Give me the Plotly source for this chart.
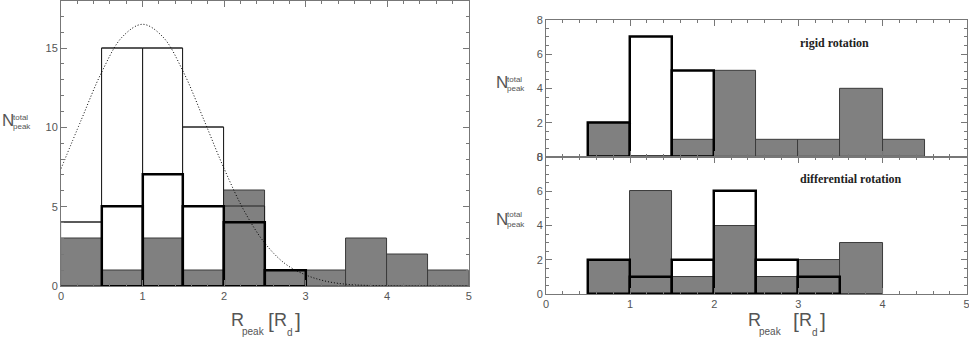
import plotly.graph_objects as go

# Centres des classes (largeur 0.5)
bins = [0.25, 0.75, 1.25, 1.75, 2.25, 2.75, 3.25, 3.75, 4.25, 4.75]

# Panneau gauche : total
left_thin = [4, 15, 15, 10, 5, None, None, None, None, None]
left_thick = [None, 5, 7, 5, 4, 1, None, None, None, None]
left_gray = [3, 1, 3, 1, 6, 1, 1, 3, 2, 1]

# Ajustement gaussien
gauss_x = [0, 0.25, 0.5, 0.75, 1.0, 1.25, 1.5, 1.75, 2.0, 2.25, 2.5,
           2.75, 3.0, 3.25, 3.5, 3.75, 4.0, 4.25, 4.5, 4.75, 5.0]
gauss_y = [7.4, 10.5, 13.5, 15.7, 16.5, 15.7, 13.5, 10.5, 7.4, 4.7, 2.7,
           1.4, 0.7, 0.3, 0.11, 0.04, 0.01, 0.0, 0.0, 0.0, 0.0]

# Panneau haut droit : rotation rigide
top_gray = [None, 2, None, 1, 5, 1, 1, 4, 1, None]
top_thick = [None, 2, 7, 5, None, None, None, None, None, None]

# Panneau bas droit : rotation différentielle
bot_gray = [None, 2, 6, 1, 4, 1, 2, 3, None, None]
bot_thick = [None, 2, 1, 2, 6, 2, 1, None, None, None]

x_ticks = [0, 1, 2, 3, 4, 5]

GRAY = "#808080"
DARK = "#3a3a3a"
AXC = "#777777"
TXT = "#555555"
W = 969
H = 337


def bar(x, y, xa, ya, fill, lc, lw):
    return go.Bar(x=x, y=y, width=0.5, xaxis=xa, yaxis=ya,
                  marker=dict(color=fill, line=dict(color=lc, width=lw)),
                  showlegend=False, hoverinfo="skip")


fig = go.Figure()

# gauche
fig.add_trace(bar(bins, left_thin, "x", "y", "white", "#222", 1))
fig.add_trace(bar(bins, left_thick, "x", "y", "white", "black", 0))
fig.add_trace(bar(bins, left_gray, "x", "y", GRAY, DARK, 1))
fig.add_trace(bar(bins, left_thin, "x", "y", "rgba(0,0,0,0)", "#222", 1))
fig.add_trace(bar(bins, left_thick, "x", "y", "rgba(0,0,0,0)", "black", 2.5))
fig.add_trace(go.Scatter(x=gauss_x, y=gauss_y, mode="lines", line_shape="spline",
                         line=dict(color="black", width=1, dash="1px,2px"),
                         showlegend=False, hoverinfo="skip"))

# haut droit
fig.add_trace(bar(bins, top_thick, "x2", "y2", "white", "black", 0))
fig.add_trace(bar(bins, top_gray, "x2", "y2", GRAY, DARK, 1))
fig.add_trace(bar(bins, top_thick, "x2", "y2", "rgba(0,0,0,0)", "black", 2.5))

# bas droit
fig.add_trace(bar(bins, bot_thick, "x3", "y3", "white", "black", 0))
fig.add_trace(bar(bins, bot_gray, "x3", "y3", GRAY, DARK, 1))
fig.add_trace(bar(bins, bot_thick, "x3", "y3", "rgba(0,0,0,0)", "black", 2.5))

axis_common = dict(showgrid=False, zeroline=False, showline=True, linecolor=AXC,
                   linewidth=1, mirror="allticks", ticks="inside", ticklen=6,
                   tickcolor=AXC, automargin=False, ticklabeloverflow="allow",
                   tickfont=dict(family="Liberation Sans", size=11, color=TXT))

fig.update_layout(
    template="none",
    width=W, height=H,
    margin=dict(l=0, r=0, t=0, b=0),
    paper_bgcolor="white", plot_bgcolor="white",
    barmode="overlay", bargap=0,
    xaxis=dict(domain=[0.063, 0.4837], range=[0, 5], tickvals=x_ticks,
               minor=dict(ticks="inside", ticklen=3, dtick=0.2, tickcolor=AXC),
               anchor="y", **axis_common),
    yaxis=dict(domain=[0.1513, 0.9985], range=[0, 18], tickvals=[0, 5, 10, 15],
               minor=dict(ticks="inside", ticklen=3, dtick=1, tickcolor=AXC),
               anchor="x", **axis_common),
    xaxis2=dict(domain=[0.5635, 0.9976], range=[0, 5], tickvals=x_ticks,
                showticklabels=False,
                minor=dict(ticks="inside", ticklen=3, dtick=0.2, tickcolor=AXC),
                anchor="y2", **axis_common),
    yaxis2=dict(domain=[0.534, 0.9412], range=[0, 8], tickvals=[0, 2, 4, 6, 8],
                minor=dict(ticks="inside", ticklen=3, dtick=0.5, tickcolor=AXC),
                anchor="x2", **axis_common),
    xaxis3=dict(domain=[0.5635, 0.9976], range=[0, 5], tickvals=x_ticks,
                minor=dict(ticks="inside", ticklen=3, dtick=0.2, tickcolor=AXC),
                anchor="y3", **axis_common),
    yaxis3=dict(domain=[0.127, 0.534], range=[0, 8], tickvals=[0, 2, 4, 6, 8],
                minor=dict(ticks="inside", ticklen=3, dtick=0.5, tickcolor=AXC),
                anchor="x3", **axis_common),
)


def ann(text, px, py, size, xanchor="left", family="Liberation Sans", color=TXT):
    fig.add_annotation(text=text, x=px / W, y=(H - py) / H, xref="paper", yref="paper",
                       xanchor=xanchor, yanchor="middle", showarrow=False,
                       font=dict(family=family, size=size, color=color))


def ylabel(px, py):
    ann("N", px, py, 17)
    ann("total", px + 11, py - 4, 8)
    ann("peak", px + 11, py + 5, 8)


def xlabel(px, py, gap):
    ann("R", px, py, 18)
    ann("peak", px + 11, py + 11, 10)
    ann("[", px + gap, py, 21)
    ann("R", px + gap + 6, py, 18)
    ann("d", px + gap + 19, py + 12, 10)
    ann("]", px + gap + 27, py, 21)


ylabel(0, 121)
ylabel(494, 83)
ylabel(494, 219)
xlabel(229, 320, 37)
xlabel(746, 320, 45)

ann("<b>rigid rotation</b>", 798, 43, 12, family="Liberation Serif", color="#222")
ann("<b>differential rotation</b>", 798, 179, 12, family="Liberation Serif", color="#222")

fig.write_html("out.html", config={"displayModeBar": False},
               post_script="document.body.style.margin='0';")
